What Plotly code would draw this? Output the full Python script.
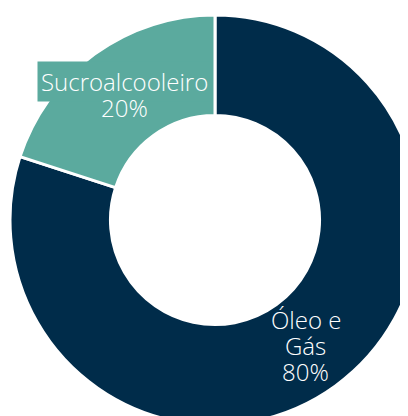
import numpy as np
import plotly.graph_objects as go

# ── Data ──────────────────────────────────────────────────────────────────────
labels = ["Óleo e Gás", "Sucroalcooleiro"]
label_lines = [["Óleo e", "Gás"], ["Sucroalcooleiro"]]
values = [80, 20]
colors = ["#002C4A", "#5BAA9E"]

HOLE = 0.51
LINE_H = 26  # px between label lines
FONT = dict(family="Open Sans", size=24, color="#FFFFFF", weight=300)

fig = go.Figure(go.Pie(
    labels=labels,
    values=values,
    hole=HOLE,
    sort=False,
    direction="clockwise",
    rotation=0,
    textinfo="none",
    hoverinfo="label+percent",
    marker=dict(colors=colors, line=dict(color="#FFFFFF", width=3)),
    showlegend=False,
))

# labels sit at the middle of each ring segment (pie box = paper [0,1])
vals = np.array(values, dtype=float)
share = vals / vals.sum()
mid = (np.cumsum(share) - share / 2) * 2 * np.pi  # clockwise from 12 o'clock
r_mid = 0.5 * (1 + HOLE) / 2
for lines, s, a, c in zip(label_lines, share, mid, colors):
    x = 0.5 + r_mid * np.sin(a)
    y = 0.5 + r_mid * np.cos(a)
    rows = lines + [f"{s:.0%}"]
    n = len(rows)
    for i, row in enumerate(rows):
        # a name that is wider than its segment gets a filled box, as in the original
        boxed = len(lines) == 1 and i == 0
        fig.add_annotation(
            x=x, y=y, xref="paper", yref="paper", text=row,
            xanchor="center", yanchor="middle", showarrow=False, font=FONT,
            yshift=((n - 1) / 2 - i) * LINE_H,
            bgcolor=c if boxed else None, borderpad=3 if boxed else 0,
        )

# body has a default 8px margin, so the pie's box starts 8px inside the page
fig.update_layout(
    width=412,
    height=417,
    margin=dict(l=2, r=0, t=7, b=0),
    paper_bgcolor="#FFFFFF",
)

fig.write_html("out.html")
